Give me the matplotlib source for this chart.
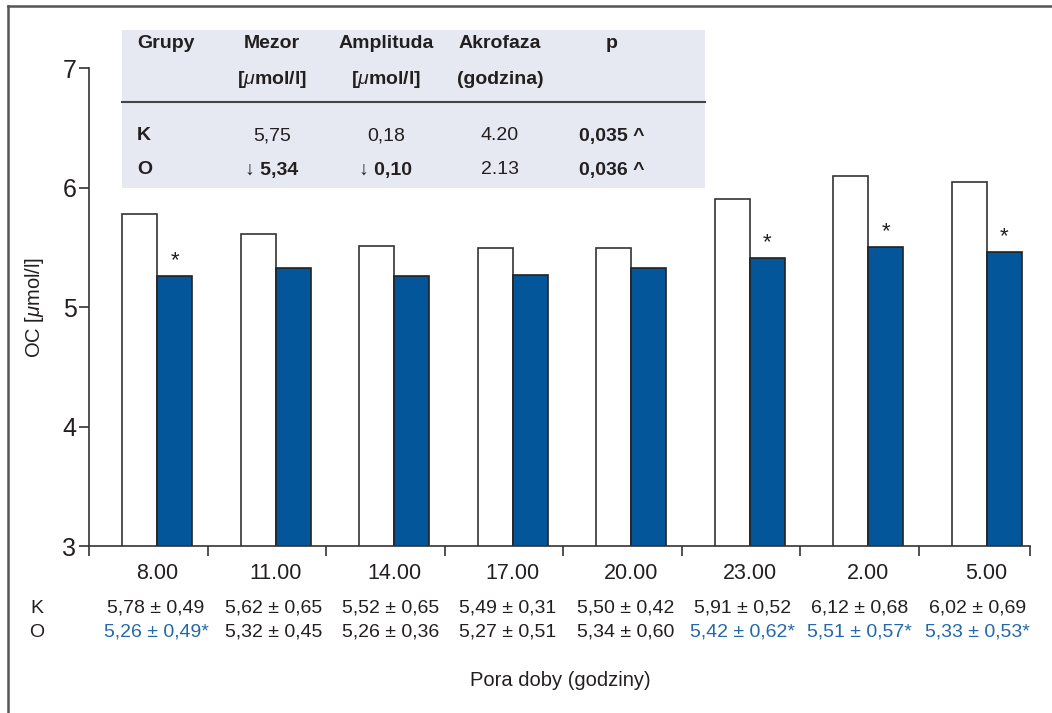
import numpy as np
import matplotlib.pyplot as plt
from matplotlib.lines import Line2D
from matplotlib.patches import Rectangle

# data
hours = ['8.00', '11.00', '14.00', '17.00', '20.00', '23.00', '2.00', '5.00']
k_vals = [5.78, 5.61, 5.51, 5.49, 5.49, 5.90, 6.10, 6.05]
o_vals = [5.26, 5.33, 5.26, 5.27, 5.33, 5.41, 5.50, 5.46]
o_star = [True, False, False, False, False, True, True, True]
k_labels = ['5,78 ± 0,49', '5,62 ± 0,65', '5,52 ± 0,65', '5,49 ± 0,31',
            '5,50 ± 0,42', '5,91 ± 0,52', '6,12 ± 0,68', '6,02 ± 0,69']
o_labels = ['5,26 ± 0,49*', '5,32 ± 0,45', '5,26 ± 0,36', '5,27 ± 0,51',
            '5,34 ± 0,60', '5,42 ± 0,62*', '5,51 ± 0,57*', '5,33 ± 0,53*']

tab_head1 = ['Grupy', 'Mezor', 'Amplituda', 'Akrofaza', 'p']
tab_head2 = ['', '[$\\mu$mol/l]', '[$\\mu$mol/l]', '(godzina)', '']
tab_k = ['K', '5,75', '0,18', '4.20', '0,035 ^']
tab_o = ['O', '↓ 5,34', '↓ 0,10', '2.13', '0,036 ^']
tab_k_bold = [True, False, False, False, True]
tab_o_bold = [True, True, True, False, True]

plt.rcParams['mathtext.fontset'] = 'custom'
plt.rcParams['mathtext.it'] = 'Liberation Sans:italic'
plt.rcParams['mathtext.rm'] = 'Liberation Sans'
plt.rcParams['mathtext.bf'] = 'Liberation Sans:bold'

fam = ['Liberation Sans', 'DejaVu Sans']
blue = '#03569a'
tblue = '#2468a8'
dark = '#231f20'

fig = plt.figure(figsize=(10.52, 7.13), dpi=100)
ax = fig.add_axes([0.0846, 0.2342, 0.8944, 0.6704])

x = np.arange(len(hours))
w = 0.295
ax.bar(x + 0.43, k_vals, w, color='white', edgecolor='#333333', linewidth=1.2)
ax.bar(x + 0.43 + w, o_vals, w, color=blue, edgecolor='#222222', linewidth=1.2)

for i in range(len(hours)):
    if o_star[i]:
        ax.text(x[i] + 0.43 + w, o_vals[i] + 0.04, '*', ha='center', va='bottom',
                fontsize=16, color=dark, family=fam)

ax.set_ylim(3, 7)
ax.set_xlim(0, 7.94)
ax.set_yticks([3, 4, 5, 6, 7])
ax.set_yticklabels(['3', '4', '5', '6', '7'], family=fam, fontsize=18, color=dark)
ax.set_xticks(list(range(8)) + [7.94])
ax.set_xticklabels([''] * 9)
ax.set_xticks(x + 0.575, minor=True)
ax.set_xticklabels(hours, minor=True, family=fam, fontsize=15.5, color=dark)
ax.tick_params(axis='x', which='minor', length=0, pad=12)
ax.tick_params(axis='both', which='major', length=7, width=1.2, color='#333333', direction='out')
ax.tick_params(axis='y', pad=2)
for s in ['top', 'right']:
    ax.spines[s].set_visible(False)
for s in ['left', 'bottom']:
    ax.spines[s].set_color('#333333')
    ax.spines[s].set_linewidth(1.2)
ax.set_ylabel('OC [$\\mu$mol/l]', family=fam, fontsize=14.5, color=dark, labelpad=12)

# mean ± SD rows under the axis
ax.text(-0.44, 2.48, 'K', fontsize=14, family=fam, color=dark, ha='center', va='center',
        clip_on=False)
ax.text(-0.44, 2.28, 'O', fontsize=14, family=fam, color=dark, ha='center', va='center',
        clip_on=False)
for i in range(len(hours)):
    ax.text(x[i] * 0.99 + 0.565, 2.48, k_labels[i], fontsize=14, family=fam, color=dark,
            ha='center', va='center', clip_on=False)
    ax.text(x[i] * 0.99 + 0.565, 2.28, o_labels[i], fontsize=14, family=fam,
            color=tblue if o_star[i] else dark, ha='center', va='center', clip_on=False)
fig.text(0.533, 1 - 680 / 713, 'Pora doby (godziny)', fontsize=14.5, family=fam, color=dark,
         ha='center', va='center')

# table inset
fig.add_artist(Rectangle((122 / 1052, 1 - 188 / 713), (705 - 122) / 1052, (188 - 30) / 713,
                         transform=fig.transFigure, facecolor='#e6e9f1', edgecolor='none'))
fig.add_artist(Line2D([122 / 1052, 705 / 1052], [1 - 102 / 713] * 2, color='#444444', lw=1.5))
col_x = [137, 272, 386, 500, 612]
for j in range(5):
    ha = 'left' if j == 0 else 'center'
    fig.text(col_x[j] / 1052, 1 - 44 / 713, tab_head1[j], fontsize=14, fontweight='bold',
             family=fam, color=dark, ha=ha, va='center')
    if tab_head2[j]:
        fig.text(col_x[j] / 1052, 1 - 79 / 713, tab_head2[j], fontsize=14, fontweight='bold',
                 family=fam, color=dark, ha=ha, va='center')
    fig.text(col_x[j] / 1052, 1 - 136 / 713, tab_k[j], fontsize=14,
             fontweight='bold' if tab_k_bold[j] else 'normal',
             family=fam, color=dark, ha=ha, va='center')
    fig.text(col_x[j] / 1052, 1 - 170 / 713, tab_o[j], fontsize=14,
             fontweight='bold' if tab_o_bold[j] else 'normal',
             family=fam, color=dark, ha=ha, va='center')

# outer frame (left and top)
fig.add_artist(Line2D([8 / 1052, 8 / 1052], [0, 1 - 6 / 713], color='#555555', lw=1.8))
fig.add_artist(Line2D([8 / 1052, 1], [1 - 6 / 713] * 2, color='#555555', lw=1.8))

fig.savefig('out.png', dpi=100)
